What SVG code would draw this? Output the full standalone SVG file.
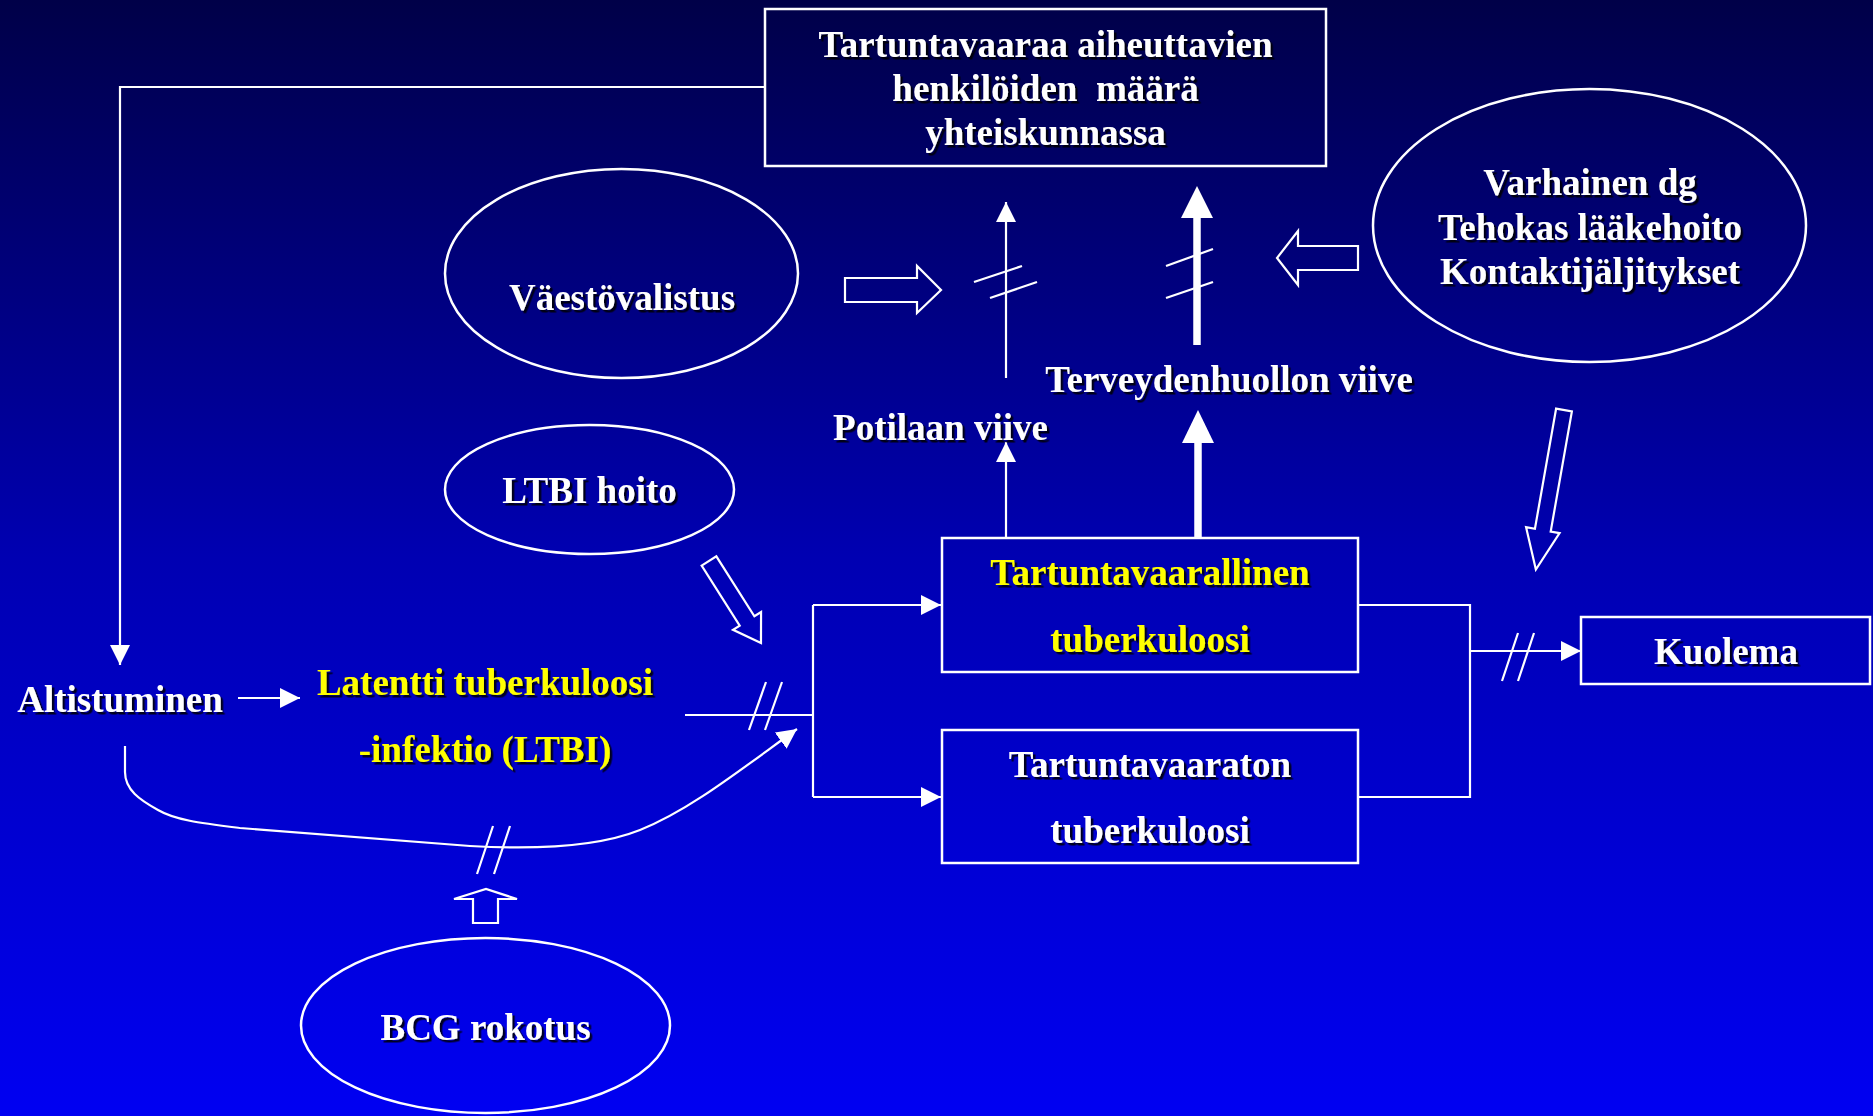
<svg xmlns="http://www.w3.org/2000/svg" width="1873" height="1116" viewBox="0 0 1873 1116">
<defs>
<linearGradient id="bg" x1="0" y1="0" x2="0" y2="1">
<stop offset="0" stop-color="#000048"/>
<stop offset="0.5" stop-color="#0000B2"/>
<stop offset="1" stop-color="#0000F2"/>
</linearGradient>
<filter id="sh" x="-5%" y="-20%" width="110%" height="140%">
<feDropShadow dx="2.5" dy="2.5" stdDeviation="0.3" flood-color="#000000" flood-opacity="0.85"/>
</filter>
<marker id="ah" viewBox="0 0 20 20" markerUnits="userSpaceOnUse" markerWidth="20" markerHeight="20" refX="20" refY="10" orient="auto">
<path d="M0,0 L20,10 L0,20 z" fill="#ffffff"/>
</marker>
</defs>
<style>
.t{font-family:"Liberation Serif","Times New Roman",serif;font-weight:bold;font-size:37px;fill:#ffffff;text-anchor:middle;filter:url(#sh)}
.y{fill:#ffff00}
.s{fill:none;stroke:#ffffff;stroke-width:2.5}
.ln{fill:none;stroke:#ffffff;stroke-width:2.2}
.hl{fill:none;stroke:#ffffff;stroke-width:2.2;stroke-linejoin:miter}
.th{fill:#ffffff;stroke:none}
</style>
<rect x="0" y="0" width="1873" height="1116" fill="url(#bg)"/>

<g id="connectors">
<polyline class="ln" points="765,87 120,87 120,665" marker-end="url(#ah)"/>
<line class="ln" x1="238" y1="698" x2="300" y2="698" marker-end="url(#ah)"/>
<line class="ln" x1="685" y1="715" x2="813" y2="715"/>
<line class="ln" x1="749" y1="730" x2="766" y2="682"/>
<line class="ln" x1="765" y1="730" x2="782" y2="682"/>
<line class="ln" x1="813" y1="605" x2="813" y2="797"/>
<line class="ln" x1="813" y1="605" x2="941" y2="605" marker-end="url(#ah)"/>
<line class="ln" x1="813" y1="797" x2="941" y2="797" marker-end="url(#ah)"/>
<path class="ln" d="M125,746 L125,772 C125,790 140,800 158,810 C175,820 200,823 240,828 L470,846 C540,850 600,846 640,830 C690,810 740,770 797,729" marker-end="url(#ah)"/>
<line class="ln" x1="477" y1="874" x2="493" y2="826"/>
<line class="ln" x1="494" y1="874" x2="510" y2="826"/>
<polyline class="ln" points="1358,605 1470,605 1470,797 1358,797"/>
<line class="ln" x1="1470" y1="651" x2="1581" y2="651" marker-end="url(#ah)"/>
<line class="ln" x1="1502" y1="681" x2="1518" y2="633"/>
<line class="ln" x1="1518" y1="681" x2="1534" y2="633"/>
<line class="ln" x1="1006" y1="537" x2="1006" y2="442" marker-end="url(#ah)"/>
<line class="ln" x1="1006" y1="378" x2="1006" y2="202" marker-end="url(#ah)"/>
<line class="ln" x1="974" y1="282" x2="1022" y2="266"/>
<line class="ln" x1="990" y1="298" x2="1037" y2="282"/>
<line x1="1198" y1="537" x2="1198" y2="442" stroke="#ffffff" stroke-width="7.5"/>
<polygon class="th" points="1198,410 1214,443 1182,443"/>
<line x1="1197" y1="345" x2="1197" y2="217" stroke="#ffffff" stroke-width="7.5"/>
<polygon class="th" points="1197,186 1213,218 1181,218"/>
<line class="ln" x1="1166" y1="266" x2="1213" y2="249"/>
<line class="ln" x1="1166" y1="298" x2="1213" y2="282"/>
<polygon class="hl" points="845,278 917,278 917,266 941,290 917,313 917,302 845,302"/>
<polygon class="hl" points="1358,246 1298,246 1298,231 1277,258 1298,285 1298,270 1358,270"/>
<polygon class="hl" points="-8,0 8,0 8,122 17,122 0,162 -17,122 -8,122" transform="translate(1564,410) rotate(10)"/>
<polygon class="hl" points="-8.7,0 8.7,0 8.7,71 16.6,71 0,97 -16.6,71 -8.7,71" transform="translate(709,561) rotate(-32.4)"/>
<polygon class="hl" points="473,923 498,923 498,899 517,899 486,889 454,899 473,899"/>
</g>

<g id="node-top">
<rect class="s" x="765" y="9" width="561" height="157"/>
<text class="t" x="1045.5" y="57">Tartuntavaaraa aiheuttavien</text>
<text class="t" x="1045.5" y="101" style="white-space:pre">henkilöiden  määrä</text>
<text class="t" x="1045.5" y="145">yhteiskunnassa</text>
</g>
<g id="node-vaesto">
<ellipse class="s" cx="621.5" cy="273.5" rx="176.5" ry="104.5"/>
<text class="t" x="622" y="310">Väestövalistus</text>
</g>
<g id="node-varhainen">
<ellipse class="s" cx="1589.5" cy="225.5" rx="216.5" ry="136.5"/>
<text class="t" x="1590" y="195">Varhainen dg</text>
<text class="t" x="1590" y="240">Tehokas lääkehoito</text>
<text class="t" x="1590" y="284">Kontaktijäljitykset</text>
</g>
<g id="node-terveys">
<text class="t" x="1229" y="392">Terveydenhuollon viive</text>
</g>
<g id="node-potilas">
<text class="t" x="940.5" y="440">Potilaan viive</text>
</g>
<g id="node-ltbihoito">
<ellipse class="s" cx="589.5" cy="489.5" rx="144.5" ry="64.5"/>
<text class="t" x="589.5" y="503">LTBI hoito</text>
</g>
<g id="node-altistuminen">
<text class="t" x="120" y="712">Altistuminen</text>
</g>
<g id="node-latentti">
<text class="t y" x="485" y="695">Latentti tuberkuloosi</text>
<text class="t y" x="485" y="762">-infektio (LTBI)</text>
</g>
<g id="node-tartuntavaarallinen">
<rect class="s" x="942" y="538" width="416" height="134"/>
<text class="t y" x="1150" y="585">Tartuntavaarallinen</text>
<text class="t y" x="1150" y="652">tuberkuloosi</text>
</g>
<g id="node-tartuntavaaraton">
<rect class="s" x="942" y="730" width="416" height="133"/>
<text class="t" x="1150" y="777">Tartuntavaaraton</text>
<text class="t" x="1150" y="843">tuberkuloosi</text>
</g>
<g id="node-kuolema">
<rect class="s" x="1581" y="617" width="289" height="67"/>
<text class="t" x="1726" y="664">Kuolema</text>
</g>
<g id="node-bcg">
<ellipse class="s" cx="485.5" cy="1025.5" rx="184.5" ry="87.5"/>
<text class="t" x="485.5" y="1040">BCG rokotus</text>
</g>
</svg>
